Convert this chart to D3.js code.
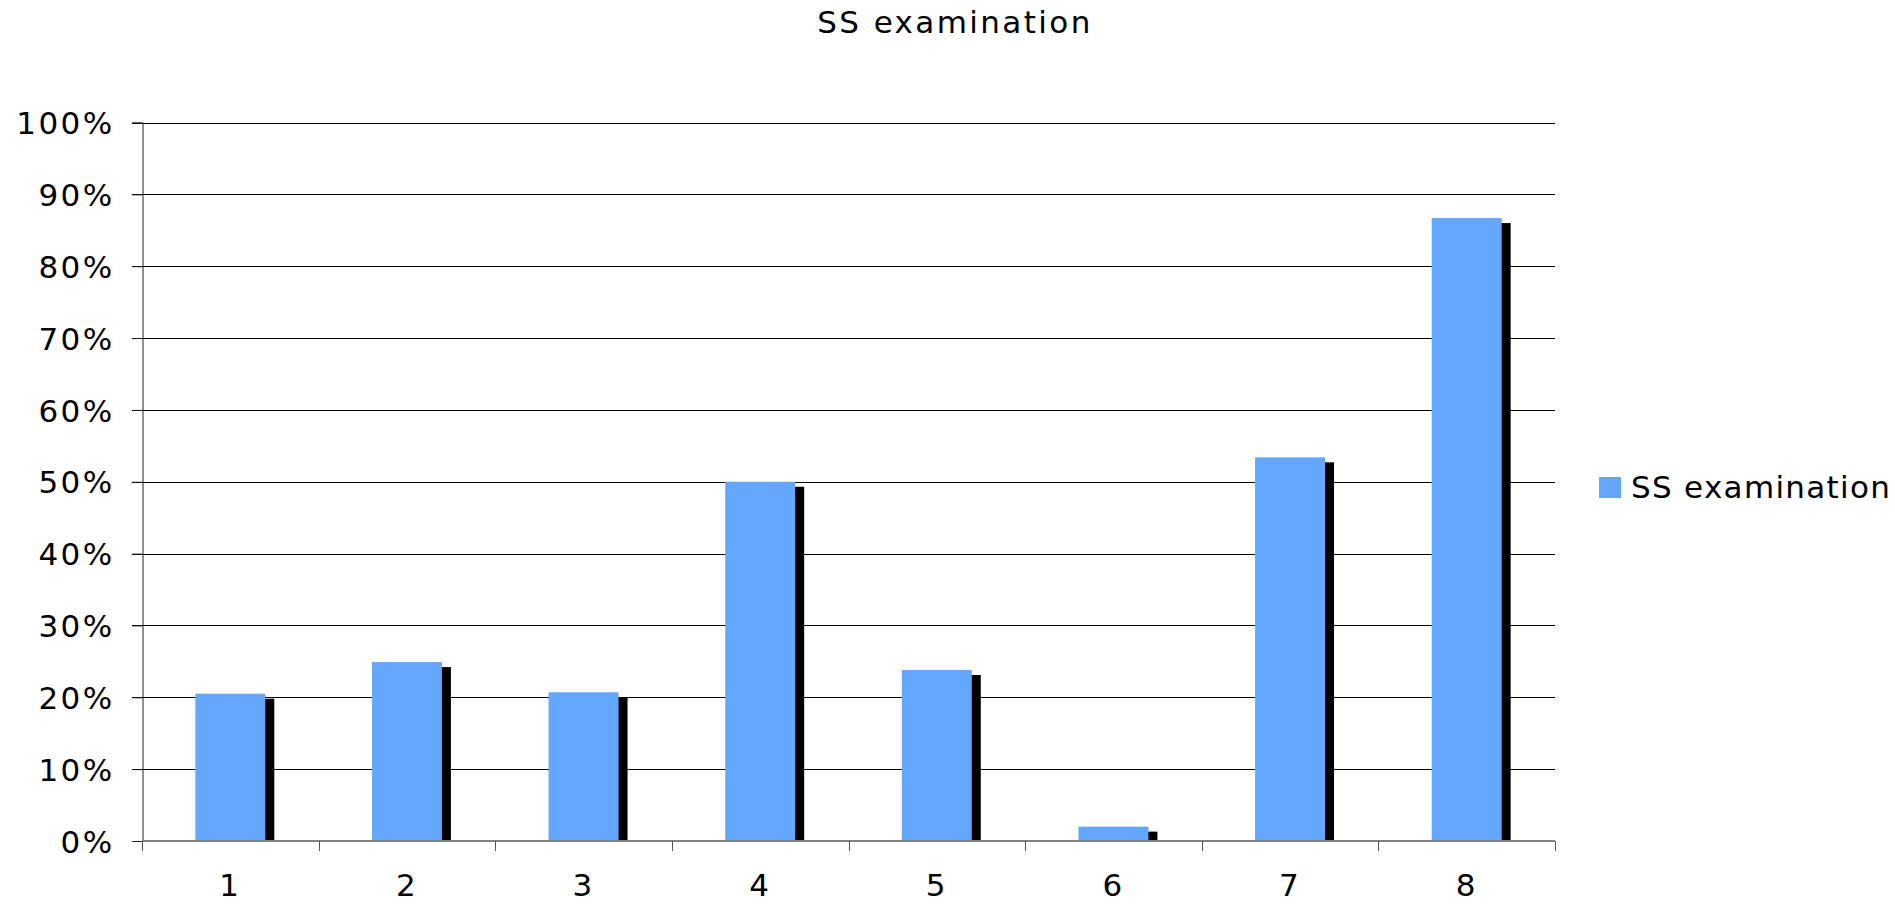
<!DOCTYPE html>
<html>
<head>
<meta charset="utf-8">
<script src="https://cdn.jsdelivr.net/npm/d3@7/dist/d3.min.js"></script>
<style>
  html, body { margin: 0; padding: 0; background: #fff; overflow: hidden; }
  text { font-family: "DejaVu Sans", sans-serif; fill: #000; }
</style>
</head>
<body>
<script>
const categories = ["1", "2", "3", "4", "5", "6", "7", "8"];
const values = [0.205, 0.249, 0.207, 0.50, 0.238, 0.020, 0.534, 0.867];
const yTicks = [0, 0.1, 0.2, 0.3, 0.4, 0.5, 0.6, 0.7, 0.8, 0.9, 1.0];
const seriesName = "SS examination";
const titleText = "SS examination";

(function () {
const W = 1895, H = 905;
const pLeft = 142, pRight = 1555, pTop = 122.5, pBottom = 841;
const fontSize = 31, ls = "2.4px";

const svg = d3.select("body").append("svg").attr("width", W).attr("height", H);

const x = d3.scaleBand().domain(categories).range([pLeft, pRight]).padding(0);
const y = d3.scaleLinear().domain([0, 1]).range([pBottom, pTop]);

// title
svg.append("text").attr("x", 955).attr("y", 33).attr("text-anchor", "middle")
  .attr("font-size", fontSize).attr("letter-spacing", ls).text(titleText);

// gridlines
svg.append("g").selectAll("line").data(yTicks.filter(d => d > 0)).join("line")
  .attr("x1", pLeft - 10).attr("x2", pRight)
  .attr("y1", d => Math.round(y(d)) + 0.5).attr("y2", d => Math.round(y(d)) + 0.5)
  .attr("stroke", "#000").attr("stroke-width", 1);

// y axis
const yAxis = d3.axisLeft(y).tickValues(yTicks).tickFormat(d3.format(".0%")).tickSize(10).tickPadding(18);
const gy = svg.append("g").attr("transform", `translate(${pLeft + 0.5},0)`).call(yAxis);
gy.select(".domain").attr("stroke", "#222");
gy.selectAll(".tick line").attr("stroke", "#222");
gy.selectAll("text").attr("font-size", fontSize).attr("letter-spacing", ls)
  .attr("font-family", "DejaVu Sans").attr("dy", "0.36em").attr("fill", "#000");

// bars
const barW = x.bandwidth() * 0.396;
const shOff = 9, shDown = 5;
const g = svg.append("g");
g.selectAll("rect.sh").data(values).join("rect").attr("class", "sh")
  .attr("x", (d, i) => x(categories[i]) + (x.bandwidth() - barW) / 2 + shOff)
  .attr("y", d => y(d) + shDown)
  .attr("width", barW)
  .attr("height", d => Math.max(0, pBottom - y(d) - shDown))
  .attr("fill", "#000");
g.selectAll("rect.bar").data(values).join("rect").attr("class", "bar")
  .attr("x", (d, i) => x(categories[i]) + (x.bandwidth() - barW) / 2)
  .attr("y", d => y(d))
  .attr("width", barW)
  .attr("height", d => pBottom - y(d))
  .attr("fill", "#63a8fe");

// x axis
const gx = svg.append("g").attr("transform", `translate(0,${pBottom})`);
gx.append("line").attr("x1", pLeft).attr("x2", pRight).attr("y1", 0).attr("y2", 0)
  .attr("stroke", "#808080").attr("stroke-width", 2);
const bounds = categories.map(c => x(c)).concat([pRight]);
gx.selectAll("line.t").data(bounds).join("line").attr("class", "t")
  .attr("x1", d => Math.round(d) + 0.5).attr("x2", d => Math.round(d) + 0.5)
  .attr("y1", 0).attr("y2", 10).attr("stroke", "#555").attr("stroke-width", 1);
gx.selectAll("text").data(categories).join("text")
  .attr("x", c => x(c) + x.bandwidth() / 2).attr("y", 55)
  .attr("text-anchor", "middle").attr("font-size", fontSize).attr("letter-spacing", ls)
  .text(c => c);

// legend
svg.append("rect").attr("x", 1599).attr("y", 477).attr("width", 22).attr("height", 21).attr("fill", "#63a8fe");
svg.append("text").attr("x", 1631).attr("y", 498).attr("font-size", fontSize).attr("letter-spacing", "1.3px").text(seriesName);
})();
</script>
</body>
</html>
